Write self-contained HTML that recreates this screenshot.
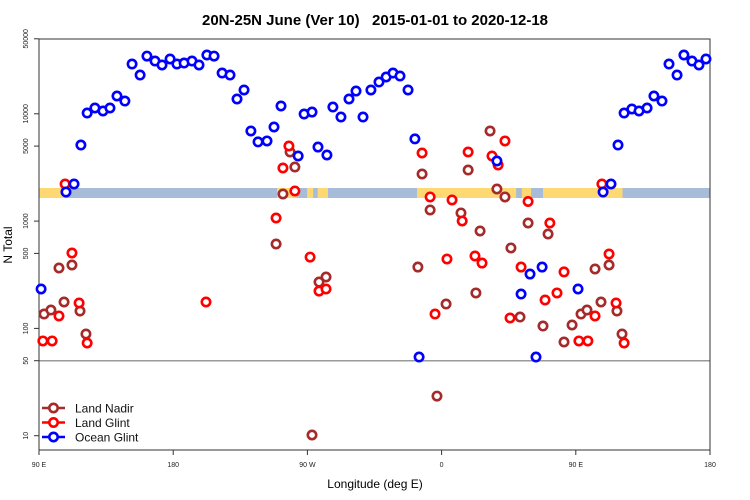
<!DOCTYPE html>
<html><head><meta charset="utf-8">
<style>
html,body{margin:0;padding:0;background:#fff;}
svg{display:block;font-family:"Liberation Sans",sans-serif;}
</style></head>
<body>
<svg id="chart" width="750" height="500" viewBox="0 0 750 500">
<text x="375" y="25" text-anchor="middle" font-size="15" font-weight="bold" style="white-space:pre">20N-25N June (Ver 10)   2015-01-01 to 2020-12-18</text>
<text x="375" y="488" text-anchor="middle" font-size="12">Longitude (deg E)</text>
<text transform="translate(12,245) rotate(-90)" text-anchor="middle" font-size="12">N Total</text>
<g id="band"></g>
<g id="axes"></g>
<g id="marks"></g>
<g id="legend"></g>
</svg>
<script>
// ---- data ----
const xTickLabels = ["90 E", "180", "90 W", "0", "90 E", "180"];
const xTickAll = [90, 180, 270, 360, 450, 540];
const yTicks = [10, 50, 100, 500, 1000, 5000, 10000, 50000];
const landStart = [90, 249.6, 269.8, 276.9, 343.5, 413.8, 428, 466.3];
const landEnd = [106.8, 262.9, 273.8, 283.8, 410, 420, 466.3, 481.3];

const oceanLon = [91.4,108.1,113.5,118.1,122.3,127.5,132.9,137.6,142.3,147.6,152.4,157.8,162.4,167.8,172.5,177.9,182.5,187.3,192.6,197.3,202.6,207.4,212.8,218.1,222.8,227.5,232.1,236.9,242.9,247.6,252.3,263.8,267.8,273.1,277.1,283.1,287.1,292.5,297.9,302.6,307.3,312.6,318.0,322.8,327.4,332.1,337.5,342.1,344.9,397.1,413.3,419.3,423.3,427.4,451.5,468.3,473.6,478.3,482.4,487.6,492.4,497.8,502.4,507.8,512.5,517.9,522.5,527.9,532.6,537.3];
const oceanVal = [233,1866,2218,5117,10165,11324,10617,11324,14655,13150,29100,22970,34510,31040,28510,32430,29100,29720,31040,28510,35320,34510,23990,22970,13740,16670,6918,5470,5585,7534,11830,4046,9954,10380,4898,4130,11560,9333,13740,16290,9333,16670,19770,22030,23990,22490,16670,5834,54.1,3631,209,321,54.1,373,233,1866,2218,5117,10165,11090,10617,11324,14655,13150,29100,22970,35320,31040,28510,32430];

const glintLon = [92.6,98.8,103.4,107.5,112.1,116.9,122.3,202.0,249.0,253.6,257.6,261.6,271.8,277.8,282.5,346.9,352.3,355.6,363.6,367.0,373.8,377.8,382.4,387.1,393.8,397.9,402.5,405.9,413.3,418.0,429.4,432.6,437.4,442.1,452.1,458.1,462.9,467.5,472.3,477.0,482.4];
const glintVal = [76.4,76.4,130.6,2218,504.7,172.6,73.1,176.2,1069,3126,5012,1909,462,222.8,233,4315,1679,136.1,443.6,1574,1002,4406,473.2,406.4,4046,3334,5585,125,373,1524,184,960,214,336,76.4,76.4,130.6,2218,494,172.6,73.1];

const nadirLon = [93.4,98.0,103.4,106.8,112.1,117.5,121.5,249.0,253.6,258.4,261.6,273.1,277.8,282.5,344.1,346.9,352.3,356.9,363.0,373.0,377.8,383.0,385.8,392.5,397.1,402.5,406.5,412.6,418.0,428.0,431.4,442.1,447.5,453.5,457.5,462.9,466.9,472.3,477.6,481.0];
const nadirVal = [136.1,148.3,365.6,176.2,389.9,145.2,88.7,612,1790,4406,3191,10.15,270.4,301.3,373,2748,1270,23.4,168.7,1191,2992,214,809,6918,1991,1679,562,127.6,960,105.2,758,74.7,107.6,136.1,148.3,358,176.2,389.9,145.2,88.7];

// ---- scales ----
const L = 39, R = 710, T = 39, B = 450;
const xs = lon => L + (lon - 90) / 450 * (R - L);
const ys = v => 435.7 - (Math.log10(v) - 1) * 107.3;
const NS = "http://www.w3.org/2000/svg";
function mk(tag, attrs, parent) {
  const e = document.createElementNS(NS, tag);
  for (const k in attrs) e.setAttribute(k, attrs[k]);
  parent.appendChild(e);
  return e;
}
// band
const band = document.getElementById('band');
const sea = mk('rect', {x: L, y: 188, width: R - L, height: 10, fill: '#a7bcd8'}, band);


for (let i = 0; i < landStart.length; i++) {
  const r = mk('rect', {x: xs(landStart[i]), y: 188, width: xs(landEnd[i]) - xs(landStart[i]), height: 10, fill: '#fdd873'}, band);
  
  
}
// axes
const ax = document.getElementById('axes');
const ref = mk('line', {x1: L, x2: R, y1: ys(50), y2: ys(50), stroke: '#999', 'stroke-width': 1.5}, ax);


const frame = mk('path', {d: `M${L},${B}V${T}H${R}V${B}H${L}`, fill: 'none', stroke: '#333', 'stroke-width': 1}, ax);


yTicks.forEach(v => {
  const y = ys(v);
  mk('line', {x1: L - 5, x2: L, y1: y, y2: y, stroke: '#333'}, ax);
  const t = mk('text', {transform: `translate(${L - 11},${y}) rotate(-90)`, 'text-anchor': 'middle', 'font-size': 7, fill: '#222'}, ax);
  t.textContent = String(v);
  
  
});
xTickAll.forEach((lon, i) => {
  const x = xs(lon);
  mk('line', {x1: x, x2: x, y1: B, y2: B + 5, stroke: '#333'}, ax);
  const t = mk('text', {x: x, y: 467, 'text-anchor': 'middle', 'font-size': 7, fill: '#222'}, ax);
  t.textContent = xTickLabels[i];
  
  
});
// marks
const marks = document.getElementById('marks');
function series(lons, vals, color, name) {
  const g = mk('g', {}, marks);
  
  
  for (let i = 0; i < lons.length; i++) {
    const c = mk('circle', {cx: xs(lons[i]), cy: ys(vals[i]), r: 4.2, fill: '#fff', stroke: color, 'stroke-width': 2.6}, g);
    
    
  }
}
series(nadirLon, nadirVal, '#a52a2a', 'land-nadir');
series(glintLon, glintVal, '#ff0000', 'land-glint');
series(oceanLon, oceanVal, '#0000ff', 'ocean-glint');
// legend
const lg = document.getElementById('legend');
const entries = [['Land Nadir', '#a52a2a'], ['Land Glint', '#ff0000'], ['Ocean Glint', '#0000ff']];
entries.forEach((e, i) => {
  const y = 408 + i * 14.5;
  const g = mk('g', {}, lg);
  
  
  mk('line', {x1: 42, x2: 65, y1: y, y2: y, stroke: e[1], 'stroke-width': 2.6}, g);
  mk('circle', {cx: 53.5, cy: y, r: 4.2, fill: '#fff', stroke: e[1], 'stroke-width': 2.6}, g);
  const t = mk('text', {x: 75, y: y + 4.3, 'font-size': 12, fill: '#111'}, g);
  t.textContent = e[0];
});
</script>
</body></html>
